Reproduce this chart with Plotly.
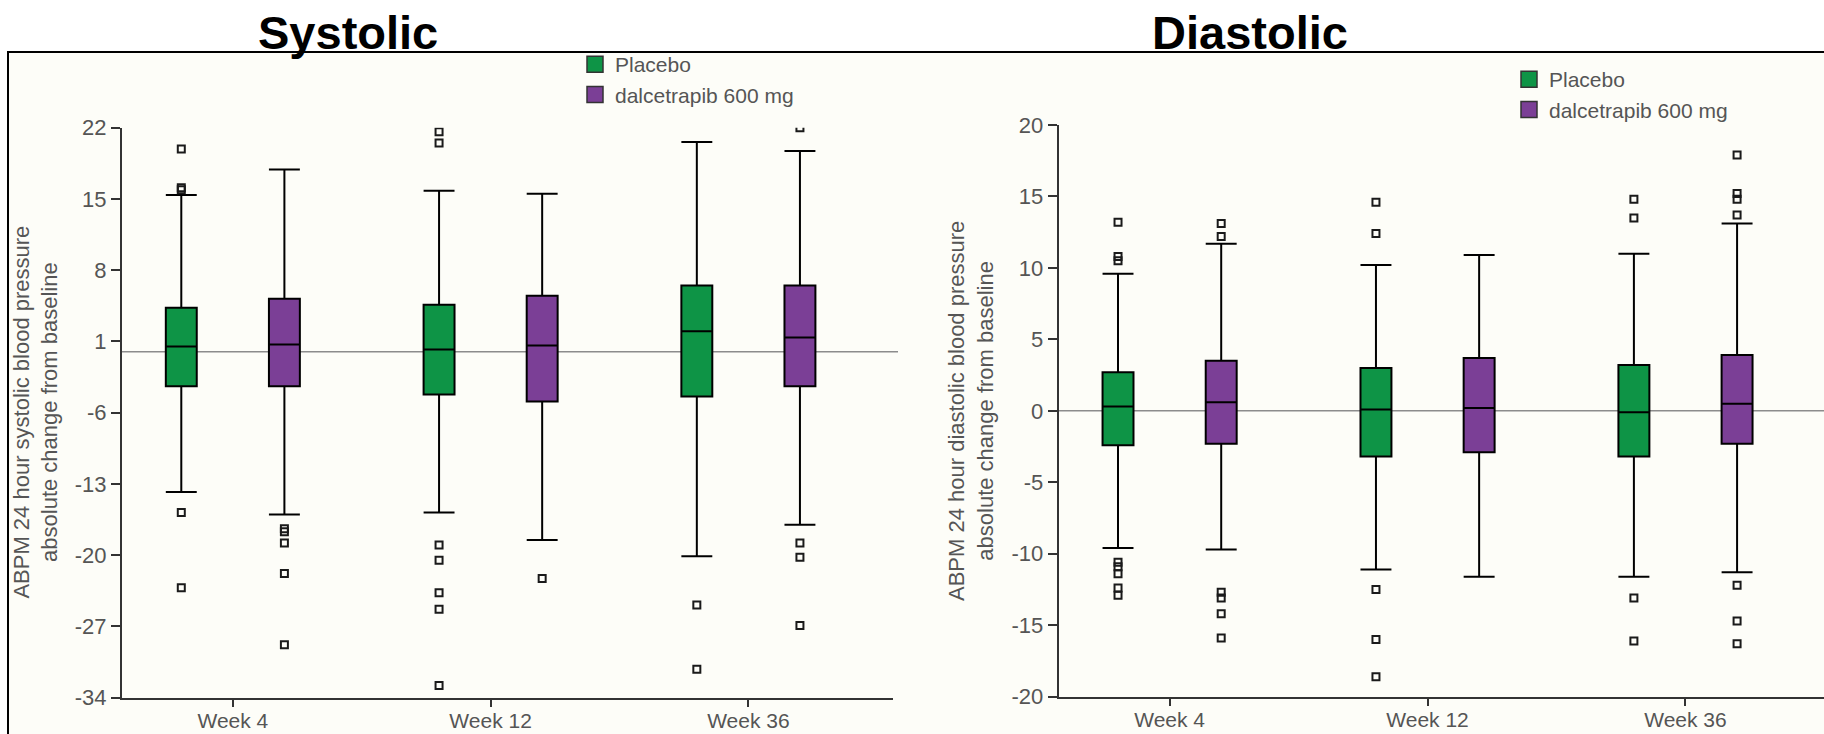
import plotly.graph_objects as go

# ---------------- data ----------------
weeks = ["Week 4", "Week 12", "Week 36"]

# Systolic - Placebo
sys_pla_q1 = [-3.4, -4.2, -4.4]
sys_pla_med = [0.5, 0.2, 2.0]
sys_pla_q3 = [4.3, 4.6, 6.5]
sys_pla_lo = [-13.8, -15.8, -20.1]
sys_pla_hi = [15.4, 15.8, 20.6]
sys_pla_out = [[19.9, 16.1, 15.9, -15.8, -23.2],
               [21.6, 20.5, -19.0, -20.5, -23.7, -25.3, -32.8],
               [-24.9, -31.2]]
# Systolic - dalcetrapib
sys_dal_q1 = [-3.4, -4.9, -3.4]
sys_dal_med = [0.7, 0.6, 1.4]
sys_dal_q3 = [5.2, 5.5, 6.5]
sys_dal_lo = [-16.0, -18.5, -17.0]
sys_dal_hi = [17.9, 15.5, 19.7]
sys_dal_out = [[-17.4, -17.7, -18.8, -21.8, -28.8],
               [-22.3],
               [22.0, -18.8, -20.2, -26.9]]

# Diastolic - Placebo
dia_pla_q1 = [-2.4, -3.2, -3.2]
dia_pla_med = [0.3, 0.1, -0.1]
dia_pla_q3 = [2.7, 3.0, 3.2]
dia_pla_lo = [-9.6, -11.1, -11.6]
dia_pla_hi = [9.6, 10.2, 11.0]
dia_pla_out = [[13.2, 10.8, 10.5, -10.6, -10.9, -11.4, -12.4, -12.9],
               [14.6, 12.4, -12.5, -16.0, -18.6],
               [14.8, 13.5, -13.1, -16.1]]
# Diastolic - dalcetrapib
dia_dal_q1 = [-2.3, -2.9, -2.3]
dia_dal_med = [0.6, 0.2, 0.5]
dia_dal_q3 = [3.5, 3.7, 3.9]
dia_dal_lo = [-9.7, -11.6, -11.3]
dia_dal_hi = [11.7, 10.9, 13.1]
dia_dal_out = [[13.1, 12.2, -12.7, -13.1, -14.2, -15.9],
               [],
               [17.9, 15.2, 14.8, 13.7, -12.2, -14.7, -16.3]]

sys_ticks = [22, 15, 8, 1, -6, -13, -20, -27, -34]
dia_ticks = [20, 15, 10, 5, 0, -5, -10, -15, -20]

series_names = ["Placebo", "dalcetrapib 600 mg"]
panel_titles = ["Systolic", "Diastolic"]
ytitles = ["ABPM 24 hour systolic blood pressure<br>absolute change from baseline",
           "ABPM 24 hour diastolic blood pressure<br>absolute change from baseline"]

# ---------------- style ----------------
GREEN = "#0e9446"
PURPLE = "#7b3f96"
FONT = "Arial, Liberation Sans, sans-serif"
TXT = "#555555"
AX = "#333333"
W, H = 1824, 734


def px_x(p):
    return p / W


def px_y(p):
    return (H - p) / H


def box(name, q1, med, q3, lo, hi, out, color, xa, ya, group):
    return go.Box(
        name=name, x=weeks, y=out, q1=q1, median=med, q3=q3,
        lowerfence=lo, upperfence=hi, orientation="v",
        boxpoints="outliers", jitter=0, pointpos=0,
        fillcolor=color, line=dict(color="black", width=2), whiskerwidth=1,
        marker=dict(symbol="square-open", size=7, color="#1a1a1a",
                    line=dict(width=2, color="#1a1a1a")),
        xaxis=xa, yaxis=ya, alignmentgroup=group, offsetgroup=name,
        showlegend=False, hoverinfo="skip",
    )


fig = go.Figure()
fig.add_trace(box(series_names[0], sys_pla_q1, sys_pla_med, sys_pla_q3, sys_pla_lo, sys_pla_hi, sys_pla_out, GREEN, "x", "y", "sys"))
fig.add_trace(box(series_names[1], sys_dal_q1, sys_dal_med, sys_dal_q3, sys_dal_lo, sys_dal_hi, sys_dal_out, PURPLE, "x", "y", "sys"))
fig.add_trace(box(series_names[0], dia_pla_q1, dia_pla_med, dia_pla_q3, dia_pla_lo, dia_pla_hi, dia_pla_out, GREEN, "x2", "y2", "dia"))
fig.add_trace(box(series_names[1], dia_dal_q1, dia_dal_med, dia_dal_q3, dia_dal_lo, dia_dal_hi, dia_dal_out, PURPLE, "x2", "y2", "dia"))

# legend entries (square swatches)
for lg, xa, ya in [("legend", "x", "y"), ("legend2", "x2", "y2")]:
    for nm, col in zip(series_names, [GREEN, PURPLE]):
        fig.add_trace(go.Scatter(
            x=[None], y=[None], mode="markers", name=nm, legend=lg,
            xaxis=xa, yaxis=ya,
            marker=dict(symbol="square", size=16, color=col, line=dict(color="#333", width=1.5)),
        ))

axis_common = dict(showline=True, linecolor=AX, linewidth=2, ticks="outside",
                   tickwidth=2, tickcolor=AX, showgrid=False, zeroline=False,
                   automargin=False, fixedrange=True)

fig.update_layout(
    width=W, height=H, margin=dict(l=0, r=0, t=0, b=0),
    template="none", paper_bgcolor="white", plot_bgcolor="rgba(0,0,0,0)",
    font=dict(family=FONT, color=TXT),
    boxmode="group", boxgap=0.2, boxgroupgap=0.7,
    showlegend=True,
    xaxis=dict(domain=[px_x(122), px_x(893)], anchor="y", type="category",
               categoryorder="array", categoryarray=weeks, range=[-0.43, 2.561],
               ticklen=7, ticklabelstandoff=-4, tickfont=dict(size=21, color=TXT), **axis_common),
    yaxis=dict(domain=[px_y(697.7), px_y(127.7)], anchor="x", range=[-34, 22],
               tickvals=sys_ticks, ticktext=[str(v) for v in sys_ticks],
               ticklen=9, tickfont=dict(size=22, color=TXT), **axis_common),
    xaxis2=dict(domain=[px_x(1058.7), 1.0], anchor="y2", type="category",
                categoryorder="array", categoryarray=weeks, range=[-0.43, 2.537],
                ticklen=7, ticklabelstandoff=-4, tickfont=dict(size=21, color=TXT), **axis_common),
    yaxis2=dict(domain=[px_y(696.7), px_y(125)], anchor="x2", range=[-20, 20],
                tickvals=dia_ticks, ticktext=[str(v) for v in dia_ticks],
                ticklen=9, tickfont=dict(size=22, color=TXT), **axis_common),
    legend=dict(x=px_x(575), y=px_y(44), xanchor="left", yanchor="top",
                bgcolor="rgba(0,0,0,0)", font=dict(size=21, color=TXT),
                itemwidth=30, tracegroupgap=0),
    legend2=dict(x=px_x(1509), y=px_y(59), xanchor="left", yanchor="top",
                 bgcolor="rgba(0,0,0,0)", font=dict(size=21, color=TXT),
                 itemwidth=30, tracegroupgap=0),
)

# frame, and zero reference lines
fig.add_shape(type="rect", xref="paper", yref="paper", x0=px_x(8), x1=1.02,
              y0=-0.05, y1=px_y(52), line=dict(color="black", width=2),
              fillcolor="#fdfdf8", layer="below")
fig.add_shape(type="line", xref="x domain", yref="y", x0=0, x1=1.0065, y0=0, y1=0,
              line=dict(color="#8c8c8c", width=1.5), layer="below")
fig.add_shape(type="line", xref="x2 domain", yref="y2", x0=0, x1=1.0, y0=0, y1=0,
              line=dict(color="#8c8c8c", width=1.5), layer="below")

# panel titles
for t, cx in zip(panel_titles, [348, 1250]):
    fig.add_annotation(text="<b>%s</b>" % t, xref="paper", yref="paper",
                       x=px_x(cx), y=px_y(61), xanchor="center", yanchor="bottom",
                       showarrow=False, font=dict(size=47, color="black", family=FONT))

# y-axis titles
for t, cx, cy in zip(ytitles, [35.6, 971], [412, 411]):
    fig.add_annotation(text=t, xref="paper", yref="paper", x=px_x(cx), y=px_y(cy),
                       xanchor="center", yanchor="middle", textangle=-90,
                       showarrow=False, font=dict(size=22, color=TXT, family=FONT))

fig.write_html("out.html")
